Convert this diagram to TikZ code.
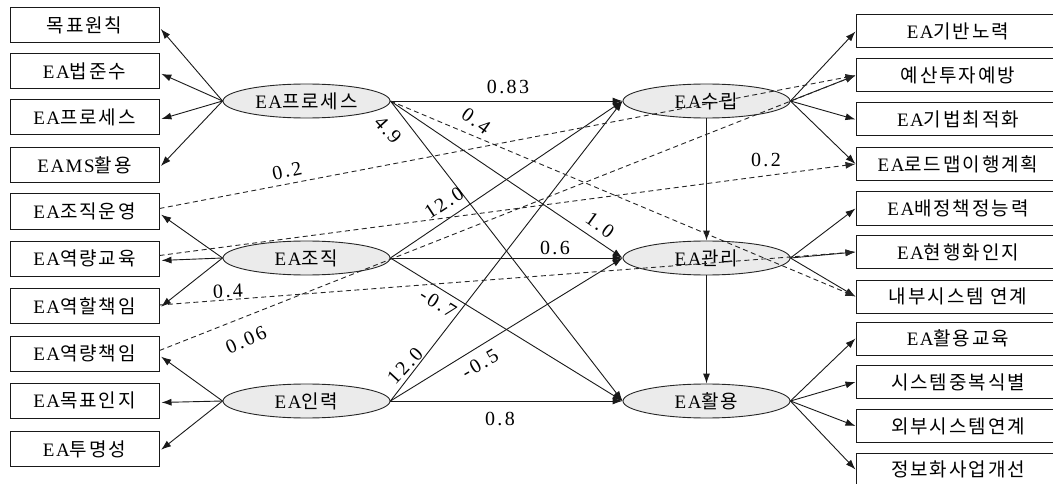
\documentclass[tikz,border=0pt]{standalone}
\usepackage{fontspec}
\setmainfont{Liberation Serif}[LetterSpace=8]
\newfontfamily\kr{Noto Sans CJK KR}[LetterSpace=10]
\newfontfamily\numf{Liberation Serif}[LetterSpace=12]
\usetikzlibrary{shapes.geometric,arrows.meta}
\definecolor{latfill}{HTML}{EBEBEB}
\tikzset{
 txt/.style={font=\fontsize{19}{21}\selectfont},
 lbox/.style={txt, draw=black!90, line width=1pt, minimum width=149pt, minimum height=35pt, inner sep=0pt},
 rbox/.style={txt, draw=black!90, line width=1pt, minimum width=204pt, minimum height=33pt, inner sep=0pt},
 lat/.style={txt, ellipse, draw=black!85, line width=0.9pt, fill=latfill, minimum width=167pt, minimum height=34pt, inner sep=0pt},
 arr/.style={-{Latex[length=10pt,width=7pt]}, line width=0.9pt, draw=black!90},
 larr/.style={arr, shorten >=2pt},
 sdarr/.style={-{Latex[length=10pt,width=7pt]}, line width=0.9pt, draw=black!85, dash pattern=on 5pt off 3.5pt},
 coef/.style={font=\numf\fontsize{20}{22}\selectfont, inner sep=1pt},
}
\newcommand{\rtx}[1]{#1\hspace{16pt}}
\begin{document}
\begin{tikzpicture}[x=1pt,y=-1pt]
\useasboundingbox (0,0) rectangle (1053,484);
% left indicator boxes
\node[lbox] (L1) at (84.5,25.5) {\kr 목표원칙};
\node[lbox] (L2) at (84.5,71) {EA\kr 법준수};
\node[lbox] (L3) at (84.5,117.5) {EA\kr 프로세스};
\node[lbox] (L4) at (84.5,165.5) {EAMS\kr 활용};
\node[lbox] (L5) at (84.5,211.5) {EA\kr 조직운영};
\node[lbox] (L6) at (84.5,258.5) {EA\kr 역량교육};
\node[lbox] (L7) at (84.5,306) {EA\kr 역할책임};
\node[lbox] (L8) at (84.5,353.5) {EA\kr 역량책임};
\node[lbox] (L9) at (84.5,400.5) {EA\kr 목표인지};
\node[lbox] (L10) at (84.5,449) {EA\kr 투명성};
% right indicator boxes
\node[rbox] (R1) at (958,31.5) {\rtx{EA\kr 기반노력}};
\node[rbox] (R2) at (958,75.5) {\rtx{\kr 예산투자예방}};
\node[rbox] (R3) at (958,119.5) {\rtx{EA\kr 기법최적화}};
\node[rbox] (R4) at (958,164) {\rtx{EA\kr 로드맵이행계획}};
\node[rbox] (R5) at (958,208.5) {\rtx{EA\kr 배정책정능력}};
\node[rbox] (R6) at (958,252) {\rtx{EA\kr 현행화인지}};
\node[rbox] (R7) at (958,296.5) {\rtx{\kr 내부시스템 연계}};
\node[rbox] (R8) at (958,338.5) {\rtx{EA\kr 활용교육}};
\node[rbox] (R9) at (958,382) {\rtx{\kr 시스템중복식별}};
\node[rbox] (R10) at (958,426) {\rtx{\kr 외부시스템연계}};
\node[rbox] (R11) at (958,469.5) {\rtx{\kr 정보화사업개선}};
% latent variables
\node[lat] (ep) at (306.5,101) {EA\kr 프로세스};
\node[lat] (eo) at (306.5,258) {EA\kr 조직};
\node[lat] (ei) at (306.5,401) {EA\kr 인력};
\node[lat] (es) at (706.5,101) {EA\kr 수립};
\node[lat] (em) at (706.5,258) {EA\kr 관리};
\node[lat] (eu) at (706.5,401) {EA\kr 활용};
% measurement arrows, left
\foreach \b in {L1,L2,L3,L4} \draw[larr] (ep.west) -- ([yshift=-2pt]\b.east);
\foreach \b in {L5,L6,L7} \draw[larr] (eo.west) -- ([yshift=-2pt]\b.east);
\foreach \b in {L8,L9,L10} \draw[larr] (ei.west) -- ([yshift=-2pt]\b.east);
% measurement arrows, right
\foreach \b in {R1,R2,R3,R4} \draw[arr] (es.east) -- (\b.west);
\foreach \b in {R5,R6,R7} \draw[arr] (em.east) -- (\b.west);
\foreach \b in {R8,R9,R10,R11} \draw[arr] (eu.east) -- (\b.west);
% structural paths
\foreach \s in {ep,eo,ei} \foreach \t in {es,em,eu} \draw[arr] (\s.east) -- (\t.west);
\draw[arr] (es.south) -- (em.north);
\draw[arr] (em.south) -- (eu.north);
% correlated errors (dashed)
\draw[sdarr] ([yshift=3pt]L5.east) -- (R2.west);
\draw[sdarr] ([yshift=3pt]L6.east) -- (R4.west);
\draw[sdarr] ([yshift=1pt]L7.east) -- (R6.west);
\draw[sdarr] ([yshift=3pt]L8.east) -- (R2.west);
\draw[sdarr] (ep.east) -- (R7.west);
% coefficients
\node[coef] (c1) at (508,87) {0.83};
\node[coef, rotate=-35] (c2) at (476,121) {0.4};
\node[coef, rotate=-48] (c3) at (388,130) {4.9};
\node[coef, rotate=33] (c4) at (444,203) {12.0};
\node[coef, rotate=-36] (c5) at (600,225) {1.0};
\node[coef] (c6) at (555,248) {0.6};
\node[coef, rotate=-32] (c7) at (438,303) {-0.7};
\node[coef, rotate=47] (c8) at (405,366) {12.0};
\node[coef, rotate=30] (c9) at (480,364) {-0.5};
\node[coef] (c10) at (500,419) {0.8};
\node[coef, rotate=12] (c11) at (287,171) {0.2};
\node[coef] (c12) at (766,160) {0.2};
\node[coef, rotate=3] (c13) at (228,291) {0.4};
\node[coef, rotate=24] (c14) at (246,340) {0.06};
\end{tikzpicture}
\end{document}
